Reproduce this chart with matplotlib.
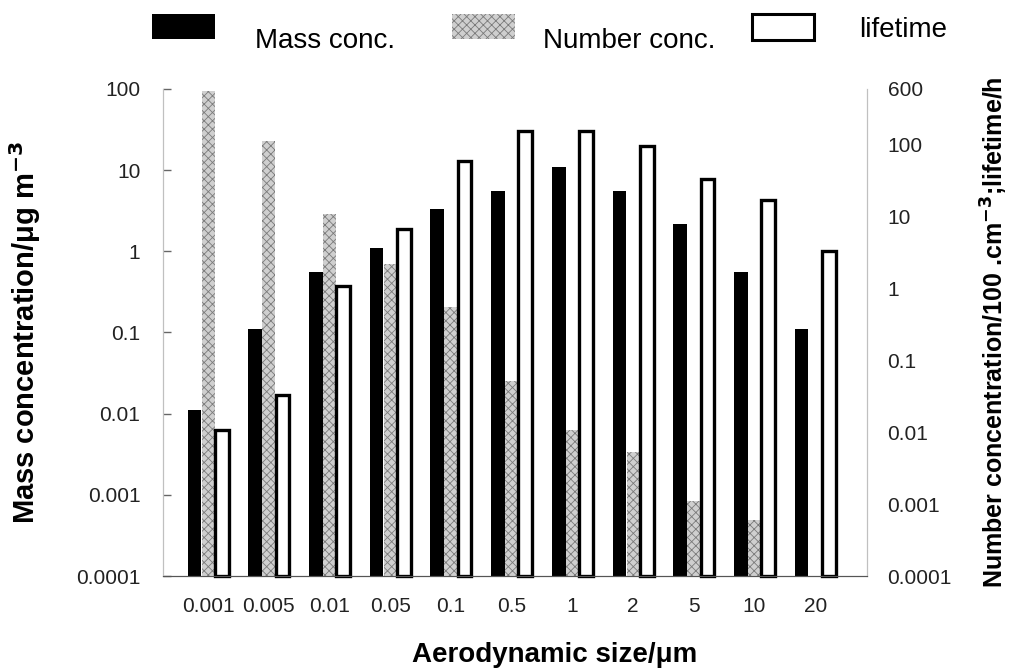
import numpy as np
import matplotlib
matplotlib.use("Agg")
import matplotlib.pyplot as plt
from matplotlib.patches import Rectangle

plt.rcParams['font.family'] = ['Liberation Sans', 'DejaVu Sans']
plt.rcParams['hatch.linewidth'] = 0.6

sizes = ["0.001", "0.005", "0.01", "0.05", "0.1", "0.5", "1", "2", "5", "10", "20"]
mass = [0.011, 0.11, 0.55, 1.1, 3.3, 5.6, 11, 5.6, 2.2, 0.55, 0.11]
number = [570, 112, 11, 2.2, 0.55, 0.052, 0.0105, 0.0052, 0.001, 0.0005, np.nan]
lifetime = [0.0105, 0.033, 1.1, 6.7, 60, 158, 158, 95, 33, 17, 3.3]

left_ticks = [0.0001, 0.001, 0.01, 0.1, 1, 10, 100]
left_labels = ["0.0001", "0.001", "0.01", "0.1", "1", "10", "100"]
right_ticks = [0.0001, 0.001, 0.01, 0.1, 1, 10, 100, 600]
right_labels = ["0.0001", "0.001", "0.01", "0.1", "1", "10", "100", "600"]

x = np.arange(len(sizes))
w = 0.225

fig = plt.figure(figsize=(10.13, 6.68), dpi=100)
ax = fig.add_axes([0.1606, 0.1377, 0.695, 0.7291])
ax2 = ax.twinx()

ax.bar(x - w, mass, w, bottom=0.0001, color="black", edgecolor="black", linewidth=0)
ax2.bar(x, number, w * 0.95, bottom=0.0001, color="#cfcfcf", edgecolor="#7a7a7a",
        linewidth=0, hatch="xxxx")
ax2.bar(x + w, lifetime, w, bottom=0.0001, color="white", edgecolor="black",
        linewidth=2.4, clip_on=False)

ax.set_yscale("log")
ax.set_ylim(0.0001, 100)
ax.set_yticks(left_ticks)
ax.set_yticklabels(left_labels)
ax.minorticks_off()
ax2.set_yscale("log")
ax2.set_ylim(0.0001, 600)
ax2.set_yticks(right_ticks)
ax2.set_yticklabels(right_labels)
ax2.minorticks_off()

ax.set_xlim(-0.75, 10.85)
ax.set_xticks(x)
ax.set_xticklabels(sizes)

for a in (ax, ax2):
    a.spines["top"].set_visible(False)
    a.spines["left"].set_color("#c0c0c0")
    a.spines["right"].set_color("#c0c0c0")
    a.spines["bottom"].set_color("#555555")
    a.tick_params(labelsize=15, colors="#222222")

ax.tick_params(axis="x", length=0, pad=15)
ax.tick_params(axis="y", direction="in", length=6, width=1, color="#666666", pad=16)
ax2.tick_params(axis="y", length=0, pad=15)

ax.set_xlabel("Aerodynamic size/μm", fontsize=20, fontweight="bold",
              ha="left", va="baseline")
ax.xaxis.set_label_coords(0.3545, -0.177)
ax.set_ylabel("Mass concentration/μg m$^{\\mathbf{-3}}$", fontsize=21,
              fontweight="bold", labelpad=24)
ax2.set_ylabel("Number concentration/100 .cm$^{\\mathbf{-3}}$;lifetime/h", fontsize=18,
               fontweight="bold", labelpad=19)

# legend drawn as figure patches and texts
fig.patches.append(Rectangle((0.1500, 0.9416), 0.0622, 0.0374, transform=fig.transFigure,
                             facecolor="black", edgecolor="black", linewidth=0))
fig.patches.append(Rectangle((0.4462, 0.9416), 0.0622, 0.0374, transform=fig.transFigure,
                             facecolor="#cfcfcf", edgecolor="#7a7a7a", linewidth=0,
                             hatch="xxxx"))
fig.patches.append(Rectangle((0.7428, 0.9394), 0.0612, 0.0389, transform=fig.transFigure,
                             facecolor="white", edgecolor="black", linewidth=2.2))
fig.text(0.2517, 0.9281, "Mass conc.", fontsize=20, va="baseline")
fig.text(0.5360, 0.9281, "Number conc.", fontsize=20, va="baseline")
fig.text(0.8480, 0.9446, "lifetime", fontsize=20, va="baseline")

fig.savefig("out.png", dpi=100)
